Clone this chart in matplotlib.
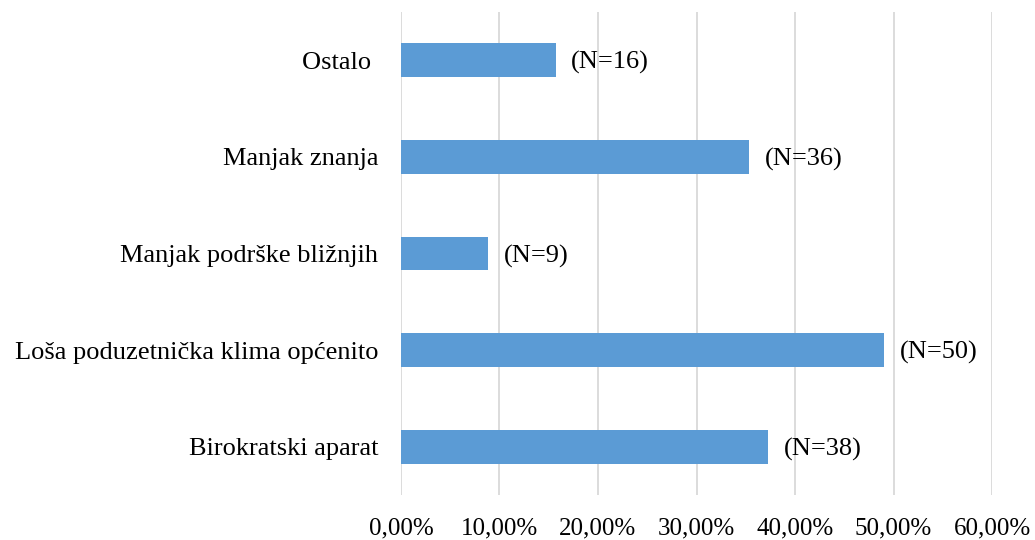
import matplotlib.pyplot as plt
from matplotlib.ticker import FuncFormatter

# data, bottom to top
categories = ['Birokratski aparat', 'Loša poduzetnička klima općenito',
              'Manjak podrške bližnjih', 'Manjak znanja', 'Ostalo ']
shares = [0.3725, 0.4902, 0.0882, 0.3529, 0.1569]
counts = [38, 50, 9, 36, 16]

plt.rcParams['font.family'] = ['Liberation Serif', 'DejaVu Serif']

fig = plt.figure(figsize=(10.35, 5.4), dpi=100)
ax = fig.add_axes([0.3874, 0.0833, 0.5711, 0.8947])

y = range(len(categories))
bars = ax.barh(y, shares, height=0.35, color='#5b9bd5', zorder=3)

for b, n in zip(bars, counts):
    ax.text(b.get_width() + 0.016, b.get_y() + b.get_height() / 2, '(N=%d)' % n,
            va='center_baseline', ha='left', fontsize=19, zorder=4)

ax.set_xlim(0, 0.6)
ax.set_ylim(-0.5, 4.5)
ax.set_xticks([0, 0.1, 0.2, 0.3, 0.4, 0.5, 0.6])
ax.xaxis.set_major_formatter(FuncFormatter(lambda v, p: ('%.2f%%' % (v * 100)).replace('.', ',')))
ax.set_yticks(list(y))
ax.set_yticklabels(categories)
for t in ax.get_yticklabels():
    t.set_verticalalignment('center_baseline')
ax.tick_params(axis='x', length=0, pad=16, labelsize=18)
ax.tick_params(axis='y', length=0, pad=16.5, labelsize=19)
ax.grid(axis='x', color='#d9d9d9', linewidth=1.3, zorder=0)
for s in ax.spines.values():
    s.set_visible(False)

fig.savefig('out.png', dpi=100)
